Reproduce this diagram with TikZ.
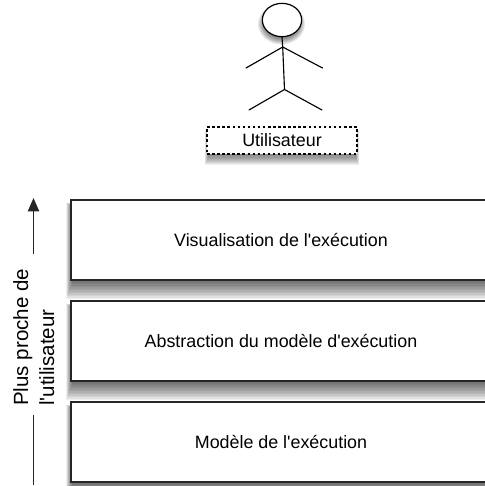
\documentclass[tikz,border=0pt]{standalone}
\usepackage{fontspec}
\newfontfamily\lsans{Liberation Sans}
\usetikzlibrary{arrows.meta,shapes.geometric}
\newcommand{\softbox}[6]{%
  \foreach \k in {1,...,#6}{%
    \fill[black,opacity=0.06]
      ({#1+3-\k*#5*0.38},{#2+7-\k*0.3}) rectangle ({#3-3+\k*#5*0.38},{#4-2+\k*#5});
  }}
\tikzset{
  layer/.style={draw=black!85,line width=0.9pt,fill=white,minimum width=315pt,minimum height=60pt,inner sep=0pt,font=\lsans\fontsize{13.4}{15}\selectfont},
  limb/.style={draw=black,line width=0.85pt,line cap=round},
  sidetext/.style={font=\lsans\fontsize{15.4}{19.5}\selectfont,align=left,rotate=90,inner sep=0pt},
  axis/.style={draw=black!85,line width=0.85pt}
}
\begin{document}
\begin{tikzpicture}[x=0.75pt,y=-0.75pt]
\useasboundingbox (0,0) rectangle (485,486);
\clip (0,0) rectangle (485,486);
\fill[white] (0,0) rectangle (485,486);
% shadows
\softbox{207}{127}{357}{154}{1.1}{12}
\foreach \k in {1,...,9}{\fill[black,opacity=0.08] (281.5,24) ellipse ({15+\k*0.95} and {12+\k*0.95});}
\softbox{71}{200}{500}{280}{1.5}{14}
\softbox{71}{301}{500}{381}{1.5}{14}
\softbox{71}{402}{500}{482}{1.5}{14}
% layers
\node[layer] (vis) at (281,240) {Visualisation de l'exécution};
\node[layer] (abs) at (281,341) {Abstraction du modèle d'exécution};
\node[layer] (mod) at (281,442) {Modèle de l'exécution};
% actor
\node[draw=black,line width=0.9pt,fill=white,ellipse,minimum width=29.5pt,minimum height=25pt,inner sep=0pt] (head) at (282,20) {};
\coordinate (neck) at (282.7,47);
\coordinate (hip) at (284.5,89.5);
\coordinate (handl) at (246,68);
\coordinate (handr) at (322.5,68);
\coordinate (footl) at (249,110);
\coordinate (footr) at (322,110);
\draw[limb] (head.south) -- (neck) -- (hip);
\draw[limb] (handl) -- (neck) -- (handr);
\draw[limb] (footl) -- (hip) -- (footr);
\node[draw=black,line width=0.9pt,dash pattern=on 1.9pt off 1.9pt,fill=white,minimum width=112.5pt,minimum height=20.25pt,inner sep=0pt,font=\lsans\fontsize{13.4}{15}\selectfont] (user) at (282,140.5) {Utilisateur};
% axis
\node[sidetext,anchor=north west] (lab) at (13,406) {Plus proche de\\l'utilisateur};
\coordinate (atop) at (33.5,198);
\coordinate (amid) at (33.5,254);
\coordinate (alow) at (33.5,415);
\coordinate (abot) at (33.5,485);
\draw[axis,-{Triangle[length=10pt,width=8.5pt]}] (amid) -- (atop);
\draw[axis] (alow) -- (abot);
\end{tikzpicture}
\end{document}
